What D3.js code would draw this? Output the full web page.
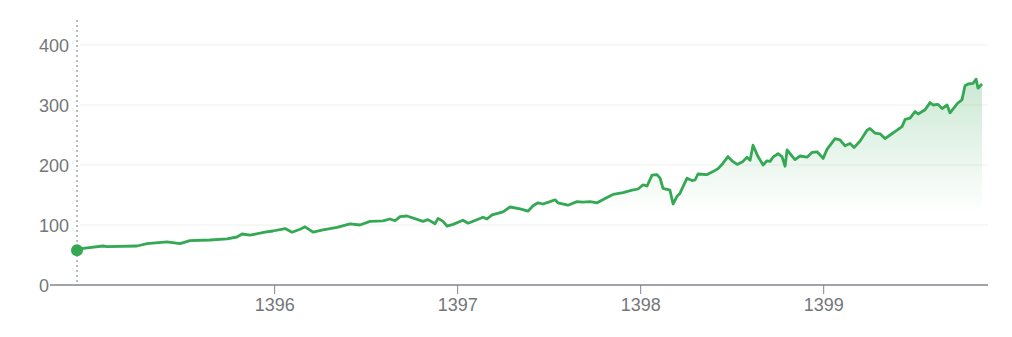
<!DOCTYPE html>
<html>
<head>
<meta charset="utf-8">
<script src="https://cdn.jsdelivr.net/npm/d3@7"></script>
<style>
	html, body { margin: 0; padding: 0; background: #ffffff; }
	svg { display: block; font-family: Arial, "Liberation Sans", sans-serif; }
</style>
</head>
<body>
<div id="chart"></div>
<script>
// Time in (solar hijri) fractional years, value of the price
var times = [
	1394.920,1394.953,1395.062,1395.084,1395.248,1395.303,1395.412,1395.483,1395.537,1395.647,
	1395.740,1395.794,1395.822,1395.865,1395.947,1395.991,1396.057,1396.095,1396.139,1396.166,
	1396.210,1396.264,1396.341,1396.412,1396.466,1396.521,1396.592,1396.630,1396.658,1396.685,
	1396.723,1396.811,1396.838,1396.876,1396.893,1396.920,1396.942,1396.975,1397.029,1397.057,
	1397.139,1397.160,1397.188,1397.248,1397.286,1397.341,1397.384,1397.412,1397.439,1397.466,
	1397.505,1397.532,1397.548,1397.603,1397.652,1397.685,1397.723,1397.762,1397.816,1397.849,
	1397.904,1397.953,1397.986,1398.013,1398.035,1398.062,1398.089,1398.106,1398.122,1398.160,
	1398.177,1398.199,1398.215,1398.253,1398.281,1398.297,1398.313,1398.363,1398.395,1398.423,
	1398.450,1398.477,1398.499,1398.527,1398.559,1398.581,1398.598,1398.614,1398.641,1398.669,
	1398.690,1398.707,1398.723,1398.751,1398.772,1398.789,1398.800,1398.843,1398.871,1398.909,
	1398.936,1398.964,1398.997,1399.018,1399.062,1399.089,1399.117,1399.144,1399.166,1399.199,
	1399.237,1399.253,1399.281,1399.308,1399.335,1399.363,1399.401,1399.428,1399.445,1399.472,
	1399.499,1399.516,1399.554,1399.581,1399.598,1399.625,1399.647,1399.674,1399.690,1399.729,
	1399.756,1399.772,1399.789,1399.816,1399.833,1399.843,1399.865
];
var values = [
	58,61,65,64,65,69,72,69,74,75,
	77,80,85,83,88,90,94,88,93,97,
	88,92,96,102,100,106,107,110,107,114,
	115,106,109,102,111,106,98,101,108,103,
	113,110,117,122,130,127,123,132,137,135,
	139,142,137,133,139,138,139,137,146,151,
	154,158,160,167,165,183,184,178,161,158,
	135,148,153,178,174,175,185,184,189,194,
	203,214,207,201,206,213,208,233,214,200,
	207,206,213,219,214,198,225,209,215,213,
	221,222,211,226,244,242,232,236,229,240,
	258,261,253,252,244,250,258,264,276,278,
	289,285,292,304,300,301,294,300,287,302,
	309,332,335,336,343,328,335
];
var yTicks = [0,100,200,300,400];
var xTicks = [1396,1397,1398,1399];
var xTickLabels = ['1396','1397','1398','1399'];

(function(){
	var width = 1012, height = 337;
	var green = '#34a853';
	var textColor = '#747779';

	var data = [];
	for(var i=0,e=values.length;i<e;++i){
		data.push({ t: times[i], v: values[i] });
	};

	var x = d3.scaleLinear()
		.domain([times[0], times[times.length-1]])
		.range([77, 982]);

	var y = d3.scaleLinear()
		.domain([0,400])
		.range([285,45]);

	var svg = d3.select('#chart')
		.append('svg')
		.attr('width',width)
		.attr('height',height);

	// gradient for the area under the line
	var defs = svg.append('defs');
	var grad = defs.append('linearGradient')
		.attr('id','areaGrad')
		.attr('gradientUnits','userSpaceOnUse')
		.attr('x1',0).attr('y1',y(345))
		.attr('x2',0).attr('y2',y(120));
	grad.append('stop').attr('offset','0%')
		.attr('stop-color',green).attr('stop-opacity',0.26);
	grad.append('stop').attr('offset','100%')
		.attr('stop-color',green).attr('stop-opacity',0);

	// grid lines
	svg.append('g')
		.attr('class','grid')
		.selectAll('line')
		.data(yTicks.filter(function(d){ return d > 0; }))
		.enter()
		.append('line')
		.attr('x1',80)
		.attr('x2',988)
		.attr('y1',function(d){ return y(d); })
		.attr('y2',function(d){ return y(d); })
		.attr('stroke','#efefef')
		.attr('stroke-width',1);

	// y labels
	svg.append('g')
		.attr('class','ylabels')
		.selectAll('text')
		.data(yTicks)
		.enter()
		.append('text')
		.attr('x',39)
		.attr('y',function(d){ return y(d) + 6.5; })
		.attr('fill',textColor)
		.attr('font-size',18)
		.text(function(d){ return d; });

	// area
	var area = d3.area()
		.x(function(d){ return x(d.t); })
		.y0(y(0))
		.y1(function(d){ return y(d.v); });

	svg.append('path')
		.datum(data)
		.attr('d',area)
		.attr('fill','url(#areaGrad)');

	// dotted start marker
	svg.append('line')
		.attr('x1',x(times[0]))
		.attr('x2',x(times[0]))
		.attr('y1',20)
		.attr('y2',y(0))
		.attr('stroke','#8a8f94')
		.attr('stroke-width',1.2)
		.attr('stroke-dasharray','2,3');

	// x axis
	svg.append('line')
		.attr('x1',50)
		.attr('x2',988)
		.attr('y1',y(0))
		.attr('y2',y(0))
		.attr('stroke','#80868b')
		.attr('stroke-width',1.6);

	var xt = svg.append('g').attr('class','xticks');
	xt.selectAll('line')
		.data(xTicks)
		.enter()
		.append('line')
		.attr('x1',function(d){ return x(d); })
		.attr('x2',function(d){ return x(d); })
		.attr('y1',y(0))
		.attr('y2',y(0)+9)
		.attr('stroke','#80868b')
		.attr('stroke-width',1);
	xt.selectAll('text')
		.data(xTicks)
		.enter()
		.append('text')
		.attr('x',function(d){ return x(d); })
		.attr('y',311)
		.attr('text-anchor','middle')
		.attr('fill',textColor)
		.attr('font-size',18)
		.text(function(d,i){ return xTickLabels[i]; });

	// line
	var line = d3.line()
		.x(function(d){ return x(d.t); })
		.y(function(d){ return y(d.v); });

	svg.append('path')
		.datum(data)
		.attr('d',line)
		.attr('fill','none')
		.attr('stroke',green)
		.attr('stroke-width',2.8)
		.attr('stroke-linejoin','round');

	// start point
	svg.append('circle')
		.attr('cx',x(times[0]))
		.attr('cy',y(values[0]))
		.attr('r',6)
		.attr('fill',green);
})();
</script>
</body>
</html>
